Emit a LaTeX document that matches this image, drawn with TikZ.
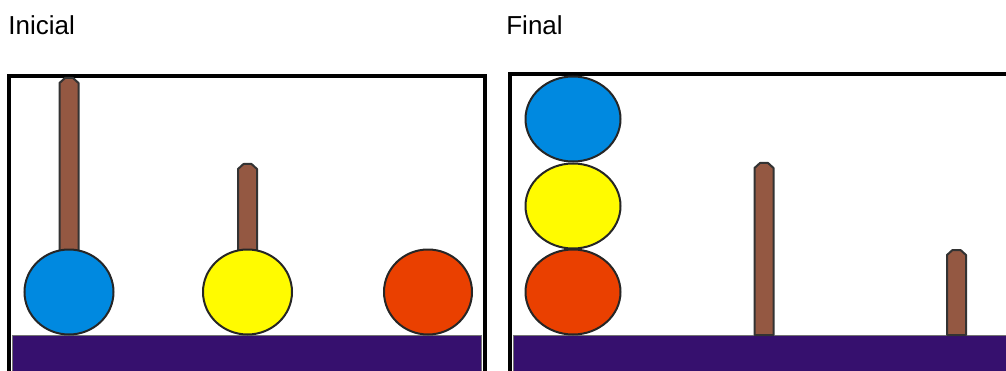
\documentclass[tikz,border=0pt]{standalone}
\usepackage{fontspec}
\setmainfont{Liberation Sans}
\usepackage{xcolor}
\definecolor{pegBrown}{RGB}{148,88,66}
\definecolor{baseViolet}{RGB}{54,16,110}
\definecolor{ballBlue}{RGB}{0,137,224}
\definecolor{ballYellow}{RGB}{255,251,0}
\definecolor{ballRed}{RGB}{234,64,0}
\tikzset{
    frameline/.style={draw=black, line width=4pt*0.569},
    basebar/.style={fill=baseViolet, draw=black!55, line width=0.5pt},
    pegbar/.style={fill=pegBrown, draw=black!80, line width=2pt*0.569, line join=round},
    ballshape/.style={draw=black!85, line width=2pt*0.569},
    title/.style={anchor=base west, inner sep=0pt, font=\fontsize{14.8}{16}\selectfont}
}
% peg: centre x, top y, bottom y
\newcommand{\drawpeg}[3]{%
    \draw[pegbar] ({#1-9.5},#3) -- ({#1-9.5},{#2+5}) -- ({#1-4},#2) -- ({#1+4},#2)
        -- ({#1+9.5},{#2+5}) -- ({#1+9.5},#3) -- cycle;}
% ball: centre x, centre y, rx, ry, colour
\newcommand{\drawball}[5]{%
    \draw[ballshape, fill=#5] (#1,#2) ellipse [x radius=#3, y radius=#4];}

\begin{document}
\begin{tikzpicture}[x=0.02cm, y=-0.02cm]
    \useasboundingbox (0,0) rectangle (1006,371);

    % titles
    \node[title] (inicial) at (8,35) {Inicial};
    \node[title] (final) at (506,35) {Final};

    % left board (initial)
    \draw[frameline] (9,380) |- (485,76) -- (485,380);
    \draw[basebar] (12,335) rectangle (481,375);
    \drawpeg{69}{78}{292}
    \drawpeg{247.5}{164}{292}
    \drawball{69}{292}{44.5}{42.5}{ballBlue}
    \drawball{247.5}{292}{44.5}{42.5}{ballYellow}
    \drawball{428}{292}{44}{42.5}{ballRed}

    % right board (final)
    \draw[frameline] (510,380) |- (1015,74);
    \draw[basebar] (513,335) rectangle (1015,375);
    \drawpeg{764}{163}{335}
    \drawpeg{956.5}{250}{335}
    \drawball{573}{292}{47.5}{42.5}{ballRed}
    \drawball{573}{206}{47.5}{42.5}{ballYellow}
    \drawball{573}{119}{47.5}{42.5}{ballBlue}
\end{tikzpicture}
\end{document}
